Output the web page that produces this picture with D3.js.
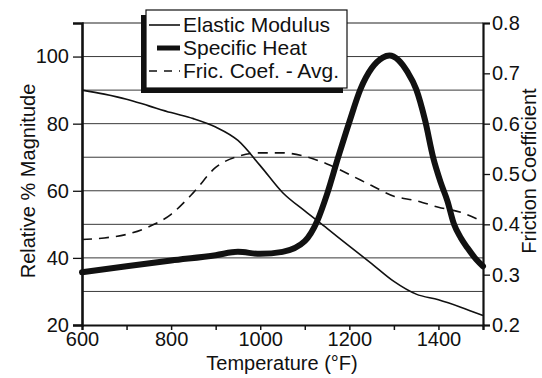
<!DOCTYPE html>
<html>
<head>
<meta charset="utf-8">
<script src="https://cdn.jsdelivr.net/npm/d3@7"></script>
<style>
  body { margin: 0; background: #fff; }
  text { font-family: "Liberation Sans", Arial, Helvetica, sans-serif; fill: #111; }
</style>
</head>
<body>
<div id="chart"></div>
<script>
// Temperatures (°F) and values
const temps = [600, 650, 700, 750, 800, 850, 900, 950, 1000, 1050, 1100, 1150, 1200, 1250, 1300, 1350, 1400, 1450, 1500];
const elasticModulus = [90, 88.8, 87.3, 85.3, 83.3, 81.5, 79, 75, 67.5, 59.5, 54, 48.8, 43.5, 38.3, 33, 29.2, 27.5, 25.3, 22.8];
const fricCoef = [0.37, 0.373, 0.38, 0.395, 0.42, 0.463, 0.513, 0.535, 0.542, 0.542, 0.535, 0.52, 0.499, 0.477, 0.456, 0.447, 0.434, 0.424, 0.405];

const heatTemps = [600, 700, 800, 900, 950, 1000, 1050, 1100, 1128, 1150, 1175, 1200, 1225, 1250, 1275, 1290, 1310, 1330, 1350, 1370, 1388, 1405, 1420, 1435, 1450, 1465, 1485, 1500];
const specificHeat = [35.7, 37.5, 39.2, 40.8, 41.8, 41.2, 41.8, 45, 51, 59, 70, 80.5, 90.3, 96.5, 99.7, 100.3, 99, 95.5, 90.3, 81, 70, 62.5, 57, 50, 46, 43, 39.5, 37.5];

const xTicks = [600, 800, 1000, 1200, 1400];
const leftTicks = [20, 40, 60, 80, 100];
const gridValues = [30, 40, 50, 60, 70, 80, 90, 100];
const rightTicks = [0.2, 0.3, 0.4, 0.5, 0.6, 0.7, 0.8];
const legendNames = ["Elastic Modulus", "Specific Heat", "Fric. Coef. - Avg."];

const width = 542, height = 378;
const plot = {left: 82, right: 483, top: 23, bottom: 325};

const svg = d3.select("#chart").append("svg")
    .attr("width", width)
    .attr("height", height);

svg.append("rect").attr("width", width).attr("height", height).attr("fill", "#fff");

const x = d3.scaleLinear().domain([600, 1500]).range([plot.left, plot.right]);
const yLeft = d3.scaleLinear().domain([20, 110]).range([plot.bottom, plot.top]);
const yRight = d3.scaleLinear().domain([0.2, 0.8]).range([plot.bottom, plot.top]);

// gridlines
svg.append("g")
  .selectAll("line")
  .data(gridValues)
  .enter().append("line")
    .attr("x1", plot.left).attr("x2", plot.right)
    .attr("y1", d => yLeft(d)).attr("y2", d => yLeft(d))
    .attr("stroke", "#3a3a3a")
    .attr("stroke-width", 1);

// top frame line
svg.append("line")
    .attr("x1", plot.left).attr("x2", plot.right)
    .attr("y1", plot.top).attr("y2", plot.top)
    .attr("stroke", "#222").attr("stroke-width", 1.2);

// curves
const curve = d3.curveMonotoneX;

svg.append("path")
    .datum(temps.map((t, i) => [t, elasticModulus[i]]))
    .attr("fill", "none")
    .attr("stroke", "#111")
    .attr("stroke-width", 1.6)
    .attr("d", d3.line().curve(curve).x(d => x(d[0])).y(d => yLeft(d[1])));

svg.append("path")
    .datum(temps.map((t, i) => [t, fricCoef[i]]))
    .attr("fill", "none")
    .attr("stroke", "#111")
    .attr("stroke-width", 1.6)
    .attr("stroke-dasharray", "10,7")
    .attr("d", d3.line().curve(curve).x(d => x(d[0])).y(d => yRight(d[1])));

svg.append("path")
    .datum(heatTemps.map((t, i) => [t, specificHeat[i]]))
    .attr("fill", "none")
    .attr("stroke", "#111")
    .attr("stroke-width", 6)
    .attr("stroke-linecap", "round")
    .attr("d", d3.line().curve(curve).x(d => x(d[0])).y(d => yLeft(d[1])));

// axes
const xAxis = svg.append("g")
    .attr("transform", "translate(0," + plot.bottom + ")")
    .call(d3.axisBottom(x).tickValues(d3.range(600, 1501, 100)).tickSize(5).tickFormat(d => xTicks.includes(d) ? d : ""));
xAxis.select(".domain").attr("stroke", "#111").attr("stroke-width", 2.2);
xAxis.selectAll(".tick line").attr("stroke", "#111").attr("stroke-width", 1.5);
xAxis.selectAll(".tick text")
    .attr("y", 7).attr("dy", "0.71em")
    .style("font-size", "20px").attr("fill", "#111");

const leftAxis = svg.append("g")
    .attr("transform", "translate(" + plot.left + ",0)")
    .call(d3.axisLeft(yLeft).tickValues(leftTicks).tickSize(9).tickPadding(4));
leftAxis.select(".domain").attr("stroke", "#111").attr("stroke-width", 2.6);
leftAxis.selectAll(".tick line").attr("stroke", "#111").attr("stroke-width", 1.3);
leftAxis.selectAll(".tick text").style("font-size", "20px").attr("fill", "#111");

const rightAxis = svg.append("g")
    .attr("transform", "translate(" + plot.right + ",0)")
    .call(d3.axisRight(yRight).tickValues(rightTicks).tickSize(7).tickPadding(2).tickFormat(d3.format(".1f")));
rightAxis.select(".domain").attr("stroke", "#111").attr("stroke-width", 2.2);
rightAxis.selectAll(".tick line").attr("stroke", "#111").attr("stroke-width", 1.3);
rightAxis.selectAll(".tick text").style("font-size", "20px").attr("fill", "#111");

// axis titles
svg.append("text")
    .attr("x", 282).attr("y", 370)
    .attr("text-anchor", "middle")
    .style("font-size", "20px")
    .text("Temperature (°F)");

svg.append("text")
    .attr("transform", "translate(35,181) rotate(-90)")
    .attr("text-anchor", "middle")
    .style("font-size", "20px")
    .text("Relative % Magnitude");

svg.append("text")
    .attr("transform", "translate(536,171) rotate(-90)")
    .attr("text-anchor", "middle")
    .style("font-size", "20px")
    .text("Friction Coefficient");

// legend with offset shadow
const legend = svg.append("g");
legend.append("rect")
    .attr("x", 141).attr("y", 15).attr("width", 202).attr("height", 78)
    .attr("fill", "#111");
legend.append("rect")
    .attr("x", 146).attr("y", 10).attr("width", 201).attr("height", 78)
    .attr("fill", "#fff").attr("stroke", "#111").attr("stroke-width", 1.2);

const sampleStyles = [
  {w: 1.6, dash: null, x1: 149},
  {w: 5, dash: null, x1: 157},
  {w: 1.6, dash: "8,7", x1: 149}
];
const row = legend.selectAll(".row")
    .data(legendNames)
    .enter().append("g")
    .attr("transform", (d, i) => "translate(0," + (32 + i * 23) + ")");
row.append("line")
    .attr("x1", (d, i) => sampleStyles[i].x1).attr("x2", 180)
    .attr("y1", -7).attr("y2", -7)
    .attr("stroke", "#111")
    .attr("stroke-width", (d, i) => sampleStyles[i].w)
    .attr("stroke-dasharray", (d, i) => sampleStyles[i].dash);
row.append("text")
    .attr("x", 183)
    .style("font-size", "21px")
    .text(d => d);
</script>
</body>
</html>
